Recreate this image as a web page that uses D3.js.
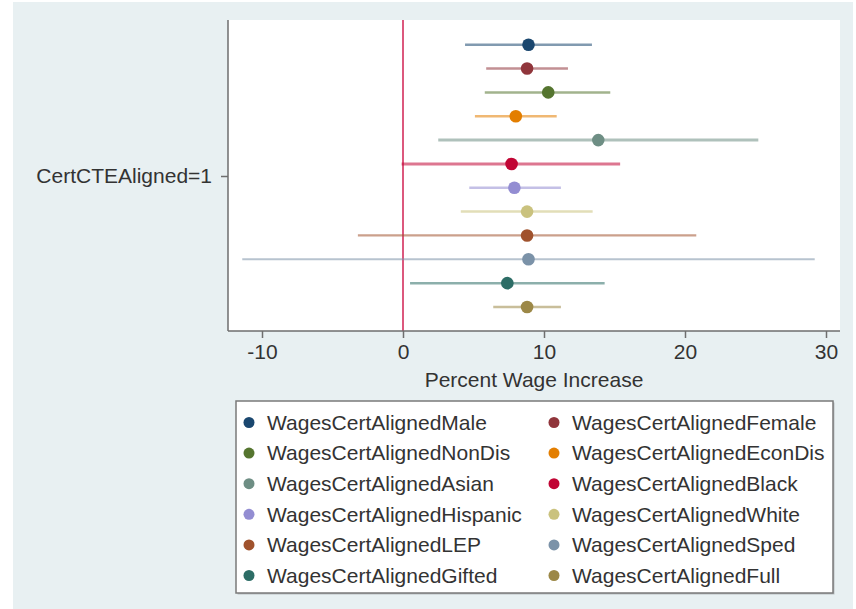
<!DOCTYPE html>
<html>
<head>
<meta charset="utf-8">
<script src="https://cdn.jsdelivr.net/npm/d3@7/dist/d3.min.js"></script>
<style>
  html, body { margin: 0; padding: 0; background: #ffffff; }
  svg { display: block; font-family: "Liberation Sans", Arial, sans-serif; }
</style>
</head>
<body>
<svg id="chart" width="856" height="609"></svg>
<script>
// Estimates (percent wage increase) with 95% confidence bounds
const series = [
  "WagesCertAlignedMale", "WagesCertAlignedFemale", "WagesCertAlignedNonDis",
  "WagesCertAlignedEconDis", "WagesCertAlignedAsian", "WagesCertAlignedBlack",
  "WagesCertAlignedHispanic", "WagesCertAlignedWhite", "WagesCertAlignedLEP",
  "WagesCertAlignedSped", "WagesCertAlignedGifted", "WagesCertAlignedFull"
];
const estimates = [8.9, 8.8, 10.3, 8.0, 13.85, 7.7, 7.9, 8.8, 8.8, 8.9, 7.4, 8.8];
const lowerCI   = [4.4, 5.9, 5.8, 5.1, 2.5, -0.1, 4.7, 4.1, -3.2, -11.4, 0.5, 6.4];
const upperCI   = [13.4, 11.7, 14.7, 10.9, 25.2, 15.4, 11.2, 13.45, 20.8, 29.2, 14.3, 11.2];
const colors = [
  "#1a476f", "#90353b", "#55752f", "#e37e00", "#6e8e84", "#c10534",
  "#938dd2", "#cac27e", "#a0522d", "#7b92a8", "#2d6d66", "#9c8847"
];
const xTicks = [-10, 0, 10, 20, 30];
const category = "CertCTEAligned=1";
const xTitle = "Percent Wage Increase";

const svg = d3.select("#chart");
const textColor = "#333333";

// Graph region background
svg.append("rect").attr("x", 13).attr("y", 2).attr("width", 840).attr("height", 607)
  .attr("fill", "#e8f0f2");

// Plot region
const plot = { left: 228, right: 840, top: 20, bottom: 331 };
svg.append("rect").attr("x", plot.left).attr("y", plot.top)
  .attr("width", plot.right - plot.left).attr("height", plot.bottom - plot.top)
  .attr("fill", "#ffffff");

const x = d3.scaleLinear().domain([-10, 30]).range([262, 826]);
const y = d3.scalePoint().domain(d3.range(series.length)).range([44.7, 307]);

// Reference line at zero
svg.append("line")
  .attr("x1", x(0)).attr("x2", x(0))
  .attr("y1", plot.top).attr("y2", plot.bottom)
  .attr("stroke", "#d63b66").attr("stroke-opacity", 0.85).attr("stroke-width", 2);

// Confidence intervals
const widths = [2.5, 2.5, 2.5, 2.5, 3, 3, 2.5, 2.5, 2.2, 2, 2.5, 2.5];
svg.append("g").selectAll("line")
  .data(series)
  .join("line")
  .attr("x1", (d, i) => x(lowerCI[i]))
  .attr("x2", (d, i) => x(upperCI[i]))
  .attr("y1", (d, i) => y(i))
  .attr("y2", (d, i) => y(i))
  .attr("stroke", (d, i) => colors[i])
  .attr("stroke-opacity", 0.55)
  .attr("stroke-width", (d, i) => widths[i]);

// Point estimates
svg.append("g").selectAll("circle")
  .data(series)
  .join("circle")
  .attr("cx", (d, i) => x(estimates[i]))
  .attr("cy", (d, i) => y(i))
  .attr("r", 6.3)
  .attr("fill", (d, i) => colors[i]);

// X axis
const xAxis = d3.axisBottom(x).tickValues(xTicks).tickSize(7).tickPadding(6)
  .tickFormat(d => String(d));
const gx = svg.append("g").attr("transform", `translate(0,${plot.bottom})`).call(xAxis);
gx.select(".domain").attr("d", `M${plot.left},0H${plot.right}`)
  .attr("stroke", "#6e6e6e").attr("stroke-width", 1.5);
gx.selectAll(".tick line").attr("stroke", "#6e6e6e").attr("stroke-width", 1.5);
gx.selectAll(".tick text")
  .attr("font-size", 21).attr("fill", textColor)
  .attr("font-family", "Liberation Sans, Arial, sans-serif");

// Y axis (single category)
const yCat = d3.scalePoint().domain([category]).range([176, 176]);
const yAxis = d3.axisLeft(yCat).tickSize(7).tickPadding(9);
const gy = svg.append("g").attr("transform", `translate(${plot.left},0)`).call(yAxis);
gy.select(".domain").attr("d", `M0,${plot.top}V${plot.bottom}`)
  .attr("stroke", "#6e6e6e").attr("stroke-width", 1.5);
gy.selectAll(".tick line").attr("stroke", "#6e6e6e").attr("stroke-width", 1.5);
gy.selectAll(".tick text")
  .attr("font-size", 21).attr("fill", textColor)
  .attr("font-family", "Liberation Sans, Arial, sans-serif");

// X axis title
svg.append("text")
  .attr("x", 534).attr("y", 387)
  .attr("text-anchor", "middle")
  .attr("font-size", 21).attr("fill", textColor)
  .text(xTitle);

// Legend
const legend = { x: 236, y: 401, w: 597, h: 192 };
svg.append("rect")
  .attr("x", legend.x + 1.5).attr("y", legend.y + 1.5)
  .attr("width", legend.w).attr("height", legend.h)
  .attr("fill", "#b9bfc2");
svg.append("rect")
  .attr("x", legend.x).attr("y", legend.y)
  .attr("width", legend.w).attr("height", legend.h)
  .attr("fill", "#ffffff").attr("stroke", "#7a7a7a").attr("stroke-width", 1.5);

const colX = [249, 554];
const rowY = d3.scaleLinear().domain([0, 5]).range([422.5, 575.5]);
const items = svg.append("g").selectAll("g")
  .data(series)
  .join("g")
  .attr("transform", (d, i) => `translate(${colX[i % 2]},${rowY(Math.floor(i / 2))})`);
items.append("circle").attr("r", 5.5).attr("fill", (d, i) => colors[i]);
items.append("text")
  .attr("x", 18).attr("dy", "0.35em")
  .attr("font-size", 21).attr("fill", textColor)
  .text(d => d);
</script>
</body>
</html>
